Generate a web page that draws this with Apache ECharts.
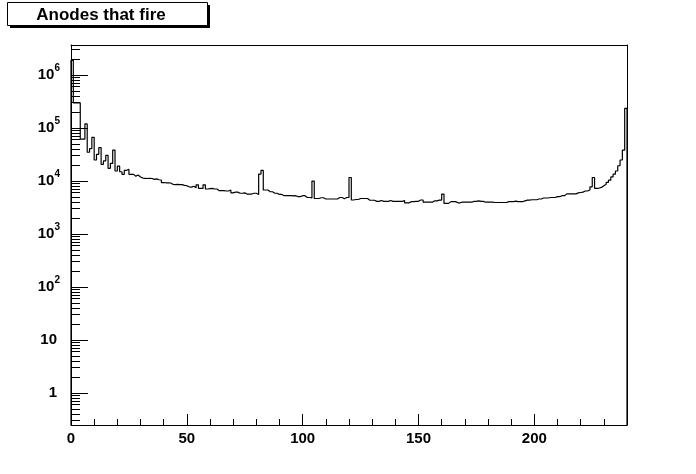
<!DOCTYPE html>
<html><head><meta charset="utf-8">
<script src="https://cdn.jsdelivr.net/npm/echarts@6/dist/echarts.min.js"></script>
<style>html,body{margin:0;padding:0;background:#fff}#c{width:696px;height:474px}</style>
</head><body><div id="c"></div>
<script>
const chartTitle = 'Anodes that fire';
// one entry per anode bin (bin i spans [i, i+1))
const anodeCounts = [
  1.9e6, 3.0e5, 3.0e5, 3.0e5, 6.2e4, 6.2e4, 1.2e5, 3.5e4, 4.1e4, 6.7e4,
  2.5e4, 3.2e4, 4.3e4, 2.07e4, 2.4e4, 3.05e4, 1.74e4, 2.16e4, 3.85e4, 1.55e4,
  1.92e4, 1.5e4, 1.34e4, 1.6e4, 1.68e4, 1.34e4, 1.34e4, 1.24e4, 1.3e4, 1.2e4,
  1.14e4, 1.13e4, 1.12e4, 1.13e4, 1.12e4, 1.08e4, 1.1e4, 1.06e4, 1.05e4, 9.4e3,
  9.3e3, 9.3e3, 9.2e3, 8.7e3, 8.6e3, 8.65e3, 8.6e3, 8.6e3, 8.3e3, 8.2e3,
  7.8e3, 7.7e3, 8.0e3, 7.5e3, 8.5e3, 7.3e3, 7.3e3, 8.5e3, 7.1e3, 7.2e3,
  7.3e3, 7.1e3, 7.1e3, 6.6e3, 6.6e3, 6.6e3, 6.5e3, 6.5e3, 6.8e3, 6.0e3,
  6.2e3, 6.2e3, 5.9e3, 5.9e3, 6.0e3, 5.7e3, 5.7e3, 5.7e3, 5.9e3, 5.9e3,
  5.6e3, 1.36e4, 1.6e4, 6.8e3, 6.8e3, 6.3e3, 6.3e3, 5.9e3, 5.9e3, 5.6e3,
  5.6e3, 5.3e3, 5.3e3, 5.35e3, 5.3e3, 5.25e3, 5.3e3, 5.1e3, 5.1e3, 5.3e3,
  5.3e3, 4.9e3, 4.9e3, 4.8e3, 1.0e4, 4.7e3, 4.7e3, 4.85e3, 4.85e3, 4.6e3,
  4.6e3, 4.6e3, 4.6e3, 4.6e3, 4.6e3, 4.9e3, 4.9e3, 4.65e3, 4.9e3, 4.9e3,
  1.17e4, 4.4e3, 4.5e3, 4.5e3, 4.7e3, 4.7e3, 4.7e3, 4.7e3, 4.35e3, 4.35e3,
  4.35e3, 4.15e3, 4.15e3, 4.3e3, 4.15e3, 4.15e3, 4.15e3, 4.3e3, 4.15e3, 4.15e3,
  4.15e3, 4.15e3, 4.15e3, 4.3e3, 3.9e3, 3.9e3, 4.1e3, 4.1e3, 4.15e3, 4.15e3,
  4.4e3, 4.4e3, 4.0e3, 4.0e3, 4.0e3, 4.0e3, 4.25e3, 4.25e3, 4.38e3, 4.38e3,
  5.7e3, 3.8e3, 3.8e3, 4.1e3, 4.1e3, 4.1e3, 3.9e3, 3.9e3, 4.0e3, 4.0e3,
  4.0e3, 4.0e3, 4.0e3, 4.15e3, 4.15e3, 4.25e3, 4.15e3, 4.15e3, 4.0e3, 4.0e3,
  4.0e3, 4.0e3, 3.95e3, 3.95e3, 3.95e3, 3.95e3, 3.95e3, 3.95e3, 4.1e3, 4.1e3,
  4.1e3, 4.2e3, 4.1e3, 4.1e3, 4.1e3, 4.25e3, 4.38e3, 4.38e3, 4.45e3, 4.45e3,
  4.45e3, 4.6e3, 4.6e3, 4.8e3, 4.8e3, 4.8e3, 4.9e3, 4.9e3, 4.9e3, 5.1e3,
  5.1e3, 5.3e3, 5.3e3, 5.75e3, 5.75e3, 5.75e3, 5.75e3, 5.75e3, 6.0e3, 6.1e3,
  6.2e3, 6.5e3, 6.5e3, 6.8e3, 7.8e3, 1.17e4, 7.3e3, 7.4e3, 7.6e3, 8.2e3,
  8.7e3, 9.5e3, 1.04e4, 1.2e4, 1.36e4, 1.55e4, 1.95e4, 2.5e4, 3.85e4, 2.35e5
];
const xMin = 0, xMax = 240;
const yMin = 0.25, yMax = 3.7e6;
const xLabelValues = [0, 50, 100, 150, 200];
const yDecadeValues = [1, 10, 100, 1000, 10000, 100000, 1000000];
const yMinorTickValues = [];
[0.1, 1, 10, 100, 1000, 10000, 100000, 1000000].forEach(function (d) {
  for (let m = 2; m <= 9; m++) {
    const v = d * m;
    if (v > yMin && v < yMax) yMinorTickValues.push(v);
  }
});

// histogram outline points (bin edges)
const histPoints = [[xMin, yMin]];
anodeCounts.forEach(function (v, i) { histPoints.push([i, v]); });
histPoints.push([anodeCounts.length, anodeCounts[anodeCounts.length - 1]]);
histPoints.push([anodeCounts.length, yMin]);

const FONT = '"Liberation Sans", Arial, Helvetica, sans-serif';
const chart = echarts.init(document.getElementById('c'), null, { renderer: 'canvas' });

function yLabel(v) {
  const e = Math.log10(v);
  const r = Math.round(e);
  if (Math.abs(e - r) > 1e-6) return '';
  if (yDecadeValues.indexOf(Math.pow(10, r)) < 0) return '';
  if (r === 0) return '{p|1}';
  if (r === 1) return '{p|10}';
  return '{b|10}{s|' + r + '}';
}

chart.setOption({
  animation: false,
  backgroundColor: '#fff',
  grid: { left: 71, right: 69, top: 45, bottom: 49, show: false },
  xAxis: [
    {
      type: 'value', min: xMin, max: xMax, interval: 10, position: 'bottom',
      axisLine: { show: true, onZero: false, lineStyle: { color: '#000', width: 1 } },
      axisTick: { show: true, inside: true, length: 6, lineStyle: { color: '#000' } },
      axisLabel: {
        show: true, margin: 6, color: '#000', fontFamily: FONT, fontWeight: 'bold', fontSize: 15,
        showMaxLabel: false,
        formatter: function (v) { return xLabelValues.indexOf(v) >= 0 ? String(v) : ''; }
      },
      splitLine: { show: false }
    },
    {
      type: 'value', min: xMin, max: xMax, interval: 50, position: 'bottom',
      axisLine: { show: false, onZero: false },
      axisTick: { show: true, inside: true, length: 11, lineStyle: { color: '#000' } },
      axisLabel: { show: false }, splitLine: { show: false }
    },
    {
      type: 'value', min: xMin, max: xMax, position: 'top',
      axisLine: { show: true, onZero: false, lineStyle: { color: '#000', width: 1 } },
      axisTick: { show: false }, axisLabel: { show: false }, splitLine: { show: false }
    }
  ],
  yAxis: [
    {
      type: 'log', logBase: 10, min: yMin, max: yMax, position: 'left',
      axisLine: { show: true, onZero: false, lineStyle: { color: '#000', width: 1 } },
      axisTick: { show: true, inside: true, length: 17, lineStyle: { color: '#000' } },
      axisLabel: {
        show: true, margin: 11, color: '#000', showMinLabel: false, showMaxLabel: false,
        formatter: yLabel,
        rich: {
          b: { fontFamily: FONT, fontWeight: 'bold', fontSize: 15, lineHeight: 24, color: '#000' },
          s: { fontFamily: FONT, fontWeight: 'bold', fontSize: 10, lineHeight: 9, verticalAlign: 'top', color: '#000' },
          p: { fontFamily: FONT, fontWeight: 'bold', fontSize: 15, color: '#000', padding: [0, 3, 0, 0] }
        }
      },
      splitLine: { show: false }
    },
    {
      type: 'value', min: 0, max: 1, position: 'right',
      axisLine: { show: true, onZero: false, lineStyle: { color: '#000', width: 1 } },
      axisTick: { show: false }, axisLabel: { show: false }, splitLine: { show: false }
    }
  ],
  series: [
    {
      type: 'line', xAxisIndex: 0, yAxisIndex: 0, step: 'end',
      data: histPoints, showSymbol: false, symbol: 'none',
      lineStyle: { color: '#000', width: 1.2 }, silent: true, clip: true
    },
    {
      type: 'custom', xAxisIndex: 0, yAxisIndex: 0, silent: true, clip: false,
      data: yMinorTickValues.map(function (v) { return [xMin, v]; }),
      renderItem: function (params, api) {
        const p = api.coord([api.value(0), api.value(1)]);
        const y = Math.round(p[1] - 0.5) + 0.5;
        const x = Math.round(p[0] - 0.5) + 0.5;
        return { type: 'line', shape: { x1: x, y1: y, x2: x + 8.5, y2: y }, style: { stroke: '#000', lineWidth: 1 } };
      }
    }
  ],
  graphic: [
    { type: 'rect', shape: { x: 10, y: 5, width: 200, height: 23 }, style: { fill: '#000' } },
    { type: 'rect', shape: { x: 7.5, y: 2.5, width: 200, height: 23 }, style: { fill: '#fff', stroke: '#000', lineWidth: 1 } },
    { type: 'text', x: 101, y: 15, style: { text: chartTitle, font: 'bold 17px ' + FONT, fill: '#000', align: 'center', verticalAlign: 'middle' } }
  ]
});
</script>
</body></html>
